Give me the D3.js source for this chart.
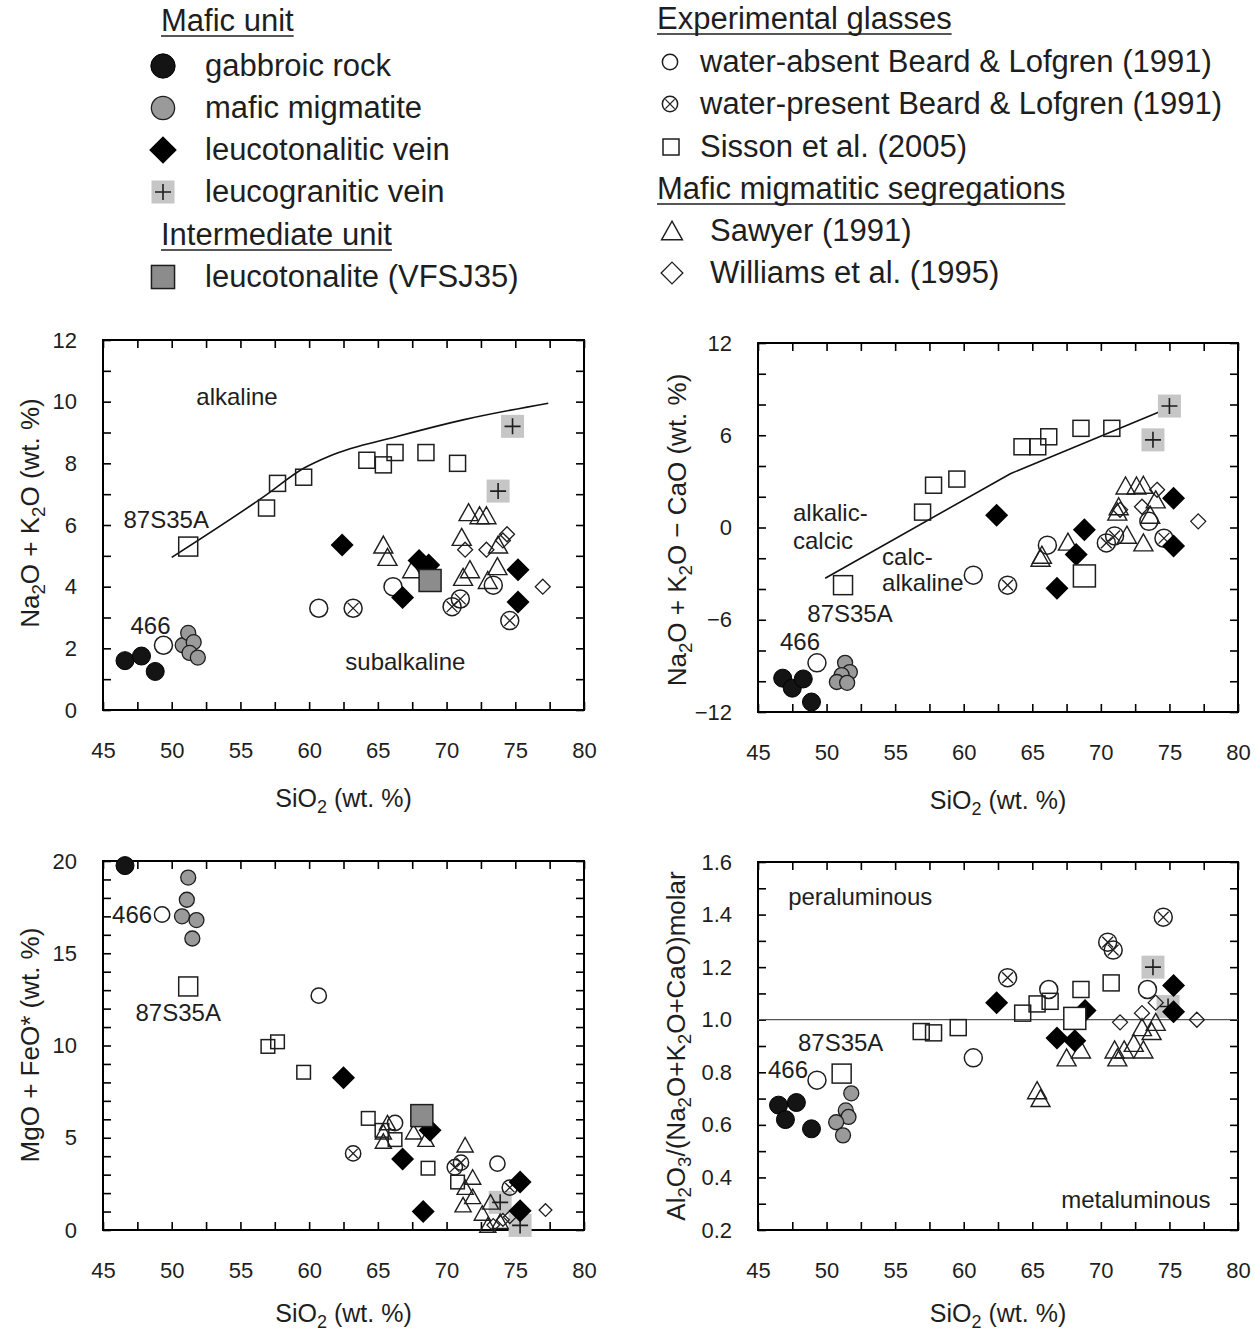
<!DOCTYPE html>
<html>
<head>
<meta charset="utf-8">
<script src="https://cdn.jsdelivr.net/npm/d3@7"></script>
<style>
  body { margin: 0; background: #fff; }
  svg text { font-family: "Liberation Sans", Arial, Helvetica, sans-serif; fill: #1e1e1e; }
</style>
</head>
<body>
<svg id="fig" width="1255" height="1332"></svg>
<script>
// ---------- tick labels ----------
const sio2Ticks = [45, 50, 55, 60, 65, 70, 75, 80];
const alkTicks = [0, 2, 4, 6, 8, 10, 12];
const maliTicks = [-12, -6, 0, 6, 12];
const mgfeTicks = [0, 5, 10, 15, 20];
const asiTicks = [0.2, 0.4, 0.6, 0.8, 1.0, 1.2, 1.4, 1.6];

// ---------- Na2O + K2O vs SiO2 ----------
const tasGabbro = [[46.6, 1.6], [47.8, 1.75], [48.8, 1.25]];
const tasMigmatite = [[50.8, 2.1], [51.2, 2.5], [51.6, 2.2], [51.3, 1.85], [51.9, 1.7]];
const tasLeucoTon = [[62.4, 5.35], [68.0, 4.85], [68.7, 4.7], [66.8, 3.65], [75.2, 4.55], [75.2, 3.5]];
const tasLeucoGran = [[74.8, 9.2], [73.75, 7.1]];
const tasVFSJ35 = [[68.8, 4.2]];
const tasDry = [[49.4, 2.1], [60.7, 3.3], [66.1, 4.0], [73.4, 4.05]];
const tasWet = [[63.2, 3.3], [70.4, 3.35], [71.0, 3.6], [74.6, 2.9]];
const tasSisson = [[56.9, 6.55], [57.7, 7.35], [59.6, 7.55], [64.2, 8.1], [65.4, 7.95], [66.25, 8.35], [68.5, 8.35], [70.8, 8.0]];
const tasSissonStart = [[51.2, 5.3]];
const tasSawyer = [[65.4, 5.35], [65.7, 4.95], [67.5, 4.55], [71.6, 6.4], [72.4, 6.3], [72.9, 6.3], [71.1, 5.6], [71.7, 4.55], [71.2, 4.3], [73.7, 4.65], [73.0, 4.2], [73.75, 5.35]];
const tasWilliams = [[71.35, 5.2], [72.9, 5.2], [74.1, 5.5], [74.4, 5.7], [77.0, 4.0]];
const tasBoundary = [[50.0, 4.95], [56.7, 6.92], [59.6, 7.84], [61.5, 8.24], [66.4, 8.87], [71.2, 9.41], [77.4, 9.95]];

// ---------- Na2O + K2O - CaO vs SiO2 ----------
const maliGabbro = [[46.8, -9.8], [47.5, -10.45], [48.3, -9.85], [48.9, -11.35]];
const maliMigmatite = [[51.35, -8.8], [51.7, -9.4], [51.1, -9.6], [50.75, -10.05], [51.5, -10.1]];
const maliLeucoTon = [[62.4, 0.8], [66.8, -3.95], [68.2, -1.75], [68.8, -0.15], [75.3, 1.9], [75.3, -1.2]];
const maliLeucoGran = [[75.0, 7.9], [73.8, 5.7]];
const maliVFSJ35 = [[68.8, -3.15]];
const maliDry = [[49.3, -8.8], [60.7, -3.1], [66.1, -1.15], [73.5, 0.4]];
const maliWet = [[63.2, -3.75], [70.4, -1.0], [71.0, -0.55], [74.6, -0.7]];
const maliSisson = [[57.0, 1.0], [57.8, 2.75], [59.5, 3.15], [64.25, 5.25], [65.4, 5.25], [66.2, 5.9], [68.55, 6.45], [70.8, 6.45]];
const maliSissonStart = [[51.2, -3.75]];
const maliSawyer = [[65.6, -2.0], [65.7, -1.8], [67.6, -0.95], [71.2, 1.0], [71.3, 1.35], [71.9, -0.5], [71.8, 2.7], [72.6, 2.7], [73.1, 2.75], [73.1, -1.0], [73.6, 0.8], [74.0, 1.8]];
const maliWilliams = [[71.4, 1.15], [73.0, 1.35], [74.1, 2.45], [77.1, 0.4]];
const maliBoundary = [[49.9, -3.3], [63.4, 3.5], [74.2, 7.5]];

// ---------- MgO + FeO* vs SiO2 ----------
const mgfeGabbro = [[46.6, 19.75]];
const mgfeMigmatite = [[51.2, 19.1], [51.1, 17.9], [50.75, 17.0], [51.8, 16.8], [51.5, 15.8]];
const mgfeLeucoTon = [[62.5, 8.25], [66.8, 3.85], [68.8, 5.4], [68.3, 1.0], [75.35, 2.6], [75.35, 1.05]];
const mgfeLeucoGran = [[75.35, 0.25], [73.9, 1.5]];
const mgfeVFSJ35 = [[68.2, 6.2]];
const mgfeDry = [[49.3, 17.1], [60.7, 12.7], [66.25, 5.8], [73.7, 3.6]];
const mgfeWet = [[63.2, 4.15], [70.6, 3.4], [71.05, 3.65], [74.6, 2.3]];
const mgfeSisson = [[57.0, 9.95], [57.7, 10.2], [59.6, 8.55], [64.3, 6.05], [65.3, 5.4], [66.25, 4.9], [68.65, 3.35], [70.8, 2.6]];
const mgfeSissonStart = [[51.2, 13.2]];
const mgfeSawyer = [[65.7, 5.8], [65.4, 5.3], [65.4, 4.8], [67.6, 5.3], [68.5, 4.9], [71.35, 4.6], [71.9, 2.85], [71.35, 2.3], [71.9, 1.8], [71.2, 1.35], [73.2, 1.5], [72.6, 0.9], [73.0, 0.25], [73.9, 0.45]];
const mgfeWilliams = [[73.4, 0.27], [74.1, 0.55], [74.6, 0.7], [77.2, 1.08]];

// ---------- Al2O3/(Na2O+K2O+CaO) molar vs SiO2 ----------
const asiGabbro = [[46.5, 0.675], [47.0, 0.62], [47.8, 0.685], [48.9, 0.585]];
const asiMigmatite = [[51.8, 0.72], [51.4, 0.655], [51.6, 0.63], [50.7, 0.61], [51.2, 0.56]];
const asiLeucoTon = [[62.4, 1.065], [66.8, 0.93], [68.1, 0.92], [68.85, 1.035], [75.3, 1.13], [75.3, 1.03]];
const asiLeucoGran = [[73.8, 1.2], [74.9, 1.05]];
const asiVFSJ35 = [[68.1, 1.005]];
const asiDry = [[49.3, 0.77], [60.7, 0.855], [66.2, 1.115], [73.4, 1.115]];
const asiWet = [[63.2, 1.16], [70.5, 1.295], [70.9, 1.265], [74.55, 1.39]];
const asiSisson = [[56.9, 0.955], [57.8, 0.95], [59.6, 0.97], [64.3, 1.025], [65.35, 1.06], [66.3, 1.07], [68.55, 1.115], [70.75, 1.14]];
const asiSissonStart = [[51.1, 0.795]];
const asiSawyer = [[65.35, 0.73], [65.6, 0.70], [67.5, 0.855], [68.55, 0.885], [71.0, 0.885], [71.2, 0.855], [71.7, 0.885], [72.4, 0.91], [73.0, 0.97], [73.1, 0.885], [73.7, 0.955], [74.0, 0.99]];
const asiWilliams = [[71.4, 0.99], [73.0, 1.025], [74.0, 1.065], [77.0, 1.0]];
const asiBoundary = [[45, 1.0], [80, 1.0]];

// ---------- drawing ----------
const svg = d3.select("#fig");
const INK = "#1e1e1e";

function drawSymbol(g, type, cx, cy, k) {
  const s = k || 1;
  if (type === "gabbro") {
    g.append("circle").attr("cx", cx).attr("cy", cy).attr("r", 9 * s)
      .attr("fill", "#141414").attr("stroke", "#000").attr("stroke-width", 1);
  } else if (type === "migmatite") {
    g.append("circle").attr("cx", cx).attr("cy", cy).attr("r", 7.5 * s)
      .attr("fill", "#9a9a9a").attr("stroke", INK).attr("stroke-width", 1.3);
  } else if (type === "leucoTon") {
    const h = 11.5 * s;
    g.append("path").attr("d", `M${cx},${cy - h}L${cx + h},${cy}L${cx},${cy + h}L${cx - h},${cy}Z`)
      .attr("fill", "#000");
  } else if (type === "leucoGran") {
    const h = 11.5 * s, p = 8 * s;
    g.append("rect").attr("x", cx - h).attr("y", cy - h).attr("width", 2 * h).attr("height", 2 * h)
      .attr("fill", "#c6c6c6");
    g.append("path").attr("d", `M${cx - p},${cy}H${cx + p}M${cx},${cy - p}V${cy + p}`)
      .attr("stroke", INK).attr("stroke-width", 1.6).attr("fill", "none");
  } else if (type === "vfsj35" || type === "vfsj35Open") {
    const h = 11 * s;
    g.append("rect").attr("x", cx - h).attr("y", cy - h).attr("width", 2 * h).attr("height", 2 * h)
      .attr("fill", type === "vfsj35" ? "#8c8c8c" : "#fff").attr("stroke", INK).attr("stroke-width", 1.5);
  } else if (type === "dry") {
    g.append("circle").attr("cx", cx).attr("cy", cy).attr("r", 9 * s)
      .attr("fill", "none").attr("stroke", INK).attr("stroke-width", 1.5);
  } else if (type === "wet") {
    const r = 9 * s, d = r * 0.6;
    g.append("circle").attr("cx", cx).attr("cy", cy).attr("r", r)
      .attr("fill", "none").attr("stroke", INK).attr("stroke-width", 1.5);
    g.append("path").attr("d", `M${cx - d},${cy - d}L${cx + d},${cy + d}M${cx - d},${cy + d}L${cx + d},${cy - d}`)
      .attr("stroke", INK).attr("stroke-width", 1.3);
  } else if (type === "sisson" || type === "sissonStart") {
    const h = (type === "sisson" ? 8 : 9.5) * s;
    g.append("rect").attr("x", cx - h).attr("y", cy - h).attr("width", 2 * h).attr("height", 2 * h)
      .attr("fill", "none").attr("stroke", INK).attr("stroke-width", 1.5);
  } else if (type === "sawyer") {
    const w = 9.5 * s, t = 9 * s, b = 8 * s;
    g.append("path").attr("d", `M${cx},${cy - t}L${cx + w},${cy + b}L${cx - w},${cy + b}Z`)
      .attr("fill", "none").attr("stroke", INK).attr("stroke-width", 1.4);
  } else if (type === "williams") {
    const h = 7.5 * s;
    g.append("path").attr("d", `M${cx},${cy - h}L${cx + h},${cy}L${cx},${cy + h}L${cx - h},${cy}Z`)
      .attr("fill", "none").attr("stroke", INK).attr("stroke-width", 1.3);
  }
}

// text with subscripts; parts: [string, isSubscript]
function richText(t, parts, fs) {
  const shift = fs * 0.24;
  let pending = 0;
  parts.forEach(([str, sub]) => {
    const sp = t.append("tspan").text(str);
    if (sub) {
      sp.attr("font-size", fs * 0.72).attr("dy", pending + shift);
      pending = -shift;
    } else {
      if (pending) sp.attr("dy", pending);
      pending = 0;
    }
  });
}

const TICK_FS = 22, XTITLE_FS = 25, YTITLE_FS = 26, NOTE_FS = 24;
const xTitle = [["SiO"], ["2", 1], [" (wt. %)"]];
const drawOrder = ["leucoGran", "sisson", "sissonStart", "sawyer", "williams", "dry", "wet", "migmatite", "gabbro", "leucoTon", "vfsj35", "vfsj35Open"];

const panels = [
  {
    box: [103, 584, 340, 710], yDomain: [0, 12], yMinor: 1, yTicks: alkTicks, yFmt: d3.format("d"),
    yTitle: [["Na"], ["2", 1], ["O + K"], ["2", 1], ["O (wt. %)"]], yTitlePos: [30, 513],
    series: { gabbro: tasGabbro, migmatite: tasMigmatite, leucoTon: tasLeucoTon, leucoGran: tasLeucoGran,
      vfsj35: tasVFSJ35, dry: tasDry, wet: tasWet, sisson: tasSisson, sissonStart: tasSissonStart,
      sawyer: tasSawyer, williams: tasWilliams },
    openScale: 1, line: tasBoundary, curve: d3.curveMonotoneX,
    notes: [
      { text: "alkaline", at: [54.75, 10.15], anchor: "middle" },
      { text: "subalkaline", at: [67.0, 1.56], anchor: "middle" }
    ],
    tags: [
      { text: "466", ref: tasDry[0], dx: -13, dy: -20, anchor: "middle" },
      { text: "87S35A", ref: tasSissonStart[0], dx: -22, dy: -27, anchor: "middle" }
    ]
  },
  {
    box: [758, 1238, 343, 712], yDomain: [-12, 12], yMinor: 2, yTicks: maliTicks, yFmt: d3.format("d"),
    yTitle: [["Na"], ["2", 1], ["O + K"], ["2", 1], ["O \u2212 CaO (wt. %)"]], yTitlePos: [677, 530],
    series: { gabbro: maliGabbro, migmatite: maliMigmatite, leucoTon: maliLeucoTon, leucoGran: maliLeucoGran,
      vfsj35Open: maliVFSJ35, dry: maliDry, wet: maliWet, sisson: maliSisson, sissonStart: maliSissonStart,
      sawyer: maliSawyer, williams: maliWilliams },
    openScale: 1, line: maliBoundary, curve: d3.curveLinear,
    notes: [
      { text: "alkalic-", at: [47.55, 1.0], anchor: "start" },
      { text: "calcic", at: [47.55, -0.82], anchor: "start" },
      { text: "calc-", at: [54.05, -1.92], anchor: "start" },
      { text: "alkaline", at: [54.05, -3.6], anchor: "start" }
    ],
    tags: [
      { text: "466", ref: maliDry[0], dx: -17, dy: -21, anchor: "middle" },
      { text: "87S35A", ref: maliSissonStart[0], dx: 7, dy: 28, anchor: "middle" }
    ]
  },
  {
    box: [103, 584, 861, 1230], yDomain: [0, 20], yMinor: 1, yTicks: mgfeTicks, yFmt: d3.format("d"),
    yTitle: [["MgO + FeO* (wt. %)"]], yTitlePos: [30, 1045],
    series: { gabbro: mgfeGabbro, migmatite: mgfeMigmatite, leucoTon: mgfeLeucoTon, leucoGran: mgfeLeucoGran,
      vfsj35: mgfeVFSJ35, dry: mgfeDry, wet: mgfeWet, sisson: mgfeSisson, sissonStart: mgfeSissonStart,
      sawyer: mgfeSawyer, williams: mgfeWilliams },
    openScale: 0.85, line: null,
    notes: [],
    tags: [
      { text: "466", ref: mgfeDry[0], dx: -10, dy: 0, anchor: "end" },
      { text: "87S35A", ref: mgfeSissonStart[0], dx: -10, dy: 26, anchor: "middle" }
    ]
  },
  {
    box: [758, 1238, 862, 1230], yDomain: [0.2, 1.6], yMinor: 0.1, yTicks: asiTicks, yFmt: d3.format(".1f"),
    yTitle: [["Al"], ["2", 1], ["O"], ["3", 1], ["/(Na"], ["2", 1], ["O+K"], ["2", 1], ["O+CaO)molar"]], yTitlePos: [676, 1046],
    series: { gabbro: asiGabbro, migmatite: asiMigmatite, leucoTon: asiLeucoTon, leucoGran: asiLeucoGran,
      vfsj35Open: asiVFSJ35, dry: asiDry, wet: asiWet, sisson: asiSisson, sissonStart: asiSissonStart,
      sawyer: asiSawyer, williams: asiWilliams },
    openScale: 1, line: asiBoundary, curve: d3.curveLinear, lineColor: "#555", lineWidth: 1.2,
    notes: [
      { text: "peraluminous", at: [47.2, 1.467], anchor: "start" },
      { text: "metaluminous", at: [78.0, 0.314], anchor: "end" }
    ],
    tags: [
      { text: "466", ref: asiDry[0], dx: -29, dy: -11, anchor: "middle" },
      { text: "87S35A", ref: asiSissonStart[0], dx: -1, dy: -31, anchor: "middle" }
    ]
  }
];

const openTypes = new Set(["dry", "wet", "sisson", "sawyer", "williams"]);

panels.forEach(p => {
  const [x0, x1, y0, y1] = p.box;
  const x = d3.scaleLinear().domain([45, 80]).range([x0, x1]);
  const y = d3.scaleLinear().domain(p.yDomain).range([y1, y0]);
  const g = svg.append("g");

  const xMinor = d3.range(45, 80.001, 2.5);
  const yMinor = d3.range(p.yDomain[0], p.yDomain[1] + p.yMinor / 2, p.yMinor);

  // inward tick marks on all four sides
  const tickStyle = sel => {
    sel.select(".domain").remove();
    sel.selectAll(".tick line").attr("stroke", "#000").attr("stroke-width", 1.6);
  };
  g.append("g").attr("transform", `translate(0,${y1})`)
    .call(d3.axisBottom(x).tickValues(xMinor).tickSize(-8).tickFormat("")).call(tickStyle);
  g.append("g").attr("transform", `translate(0,${y0})`)
    .call(d3.axisTop(x).tickValues(xMinor).tickSize(-8).tickFormat("")).call(tickStyle);
  g.append("g").attr("transform", `translate(${x0},0)`)
    .call(d3.axisLeft(y).tickValues(yMinor).tickSize(-8).tickFormat("")).call(tickStyle);
  g.append("g").attr("transform", `translate(${x1},0)`)
    .call(d3.axisRight(y).tickValues(yMinor).tickSize(-8).tickFormat("")).call(tickStyle);

  // tick labels
  const lab = sel => {
    sel.select(".domain").remove();
    sel.selectAll(".tick line").remove();
    sel.selectAll("text").attr("font-size", TICK_FS).attr("fill", INK)
      .attr("font-family", '"Liberation Sans", Arial, sans-serif');
  };
  g.append("g").attr("transform", `translate(0,${y1})`)
    .call(d3.axisBottom(x).tickValues(sio2Ticks).tickSize(0).tickPadding(32).tickFormat(d3.format("d"))).call(lab);
  g.append("g").attr("transform", `translate(${x0},0)`)
    .call(d3.axisLeft(y).tickValues(p.yTicks).tickSize(0).tickPadding(26).tickFormat(p.yFmt)).call(lab);

  // frame
  g.append("rect").attr("x", x0).attr("y", y0).attr("width", x1 - x0).attr("height", y1 - y0)
    .attr("fill", "none").attr("stroke", "#000").attr("stroke-width", 2);

  // axis titles
  const xt = g.append("text").attr("x", (x0 + x1) / 2).attr("y", y1 + (y1 > 1000 ? 92 : 97))
    .attr("text-anchor", "middle").attr("font-size", XTITLE_FS);
  richText(xt, xTitle, XTITLE_FS);
  const yt = g.append("text")
    .attr("transform", `translate(${p.yTitlePos[0] + YTITLE_FS * 0.35},${p.yTitlePos[1]}) rotate(-90)`)
    .attr("text-anchor", "middle").attr("font-size", YTITLE_FS);
  richText(yt, p.yTitle, YTITLE_FS);

  // boundary line
  if (p.line) {
    g.append("path").datum(p.line)
      .attr("d", d3.line().x(d => x(d[0])).y(d => y(d[1])).curve(p.curve))
      .attr("fill", "none").attr("stroke", p.lineColor || "#111").attr("stroke-width", p.lineWidth || 1.6);
  }

  // field names
  p.notes.forEach(n => {
    g.append("text").attr("x", x(n.at[0])).attr("y", y(n.at[1])).attr("dy", "0.35em")
      .attr("text-anchor", n.anchor).attr("font-size", NOTE_FS).text(n.text);
  });

  // samples
  const marks = g.append("g");
  drawOrder.forEach(type => {
    const pts = p.series[type];
    if (!pts) return;
    const k = openTypes.has(type) ? p.openScale : 1;
    pts.forEach(d => drawSymbol(marks, type, x(d[0]), y(d[1]), k));
  });

  // starting-material labels
  p.tags.forEach(t => {
    g.append("text").attr("x", x(t.ref[0]) + t.dx).attr("y", y(t.ref[1]) + t.dy).attr("dy", "0.35em")
      .attr("text-anchor", t.anchor).attr("font-size", NOTE_FS).text(t.text);
  });
});

// ---------- legend ----------
const LEG_FS = 31;
const legend = svg.append("g");

function heading(xp, base, text) {
  const t = legend.append("text").attr("x", xp).attr("y", base).attr("font-size", LEG_FS).text(text);
  const w = t.node().getComputedTextLength();
  legend.append("line").attr("x1", xp).attr("x2", xp + w).attr("y1", base + 5).attr("y2", base + 5)
    .attr("stroke", INK).attr("stroke-width", 1.6);
}
function item(sx, tx, base, type, k, text) {
  drawSymbol(legend, type, sx, base - 10, k);
  legend.append("text").attr("x", tx).attr("y", base).attr("font-size", LEG_FS).text(text);
}

heading(161, 31, "Mafic unit");
item(163, 205, 76, "gabbro", 1.35, "gabbroic rock");
item(163, 205, 118, "migmatite", 1.55, "mafic migmatite");
item(163, 205, 160, "leucoTon", 1.2, "leucotonalitic vein");
item(163, 205, 202, "leucoGran", 1.0, "leucogranitic vein");
heading(161, 245, "Intermediate unit");
item(163, 205, 287, "vfsj35", 1.05, "leucotonalite (VFSJ35)");

heading(657, 29, "Experimental glasses");
item(670, 700, 72, "dry", 0.85, "water-absent Beard & Lofgren (1991)");
item(670, 700, 114, "wet", 0.85, "water-present Beard & Lofgren (1991)");
item(671, 700, 157, "sisson", 1.0, "Sisson et al. (2005)");
heading(657, 199, "Mafic migmatitic segregations");
item(672, 710, 241, "sawyer", 1.1, "Sawyer (1991)");
item(672, 710, 283, "williams", 1.45, "Williams et al. (1995)");
</script>
</body>
</html>
